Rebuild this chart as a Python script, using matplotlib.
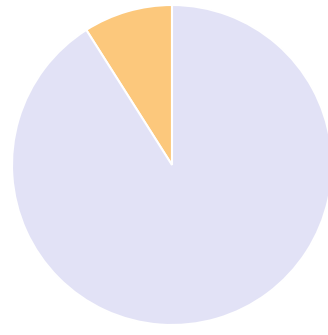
import matplotlib
matplotlib.use("Agg")
import matplotlib.pyplot as plt

labels = ["Orange", "Lavender"]
values = [9, 91]
colors = ["#fcc87c", "#e2e2f6"]

fig = plt.figure(figsize=(3.28, 3.35), dpi=100)
ax = fig.add_axes([12 / 328, 10 / 335, 320 / 328, 320 / 335])
ax.pie(values, colors=colors, startangle=90, counterclock=True,
       wedgeprops=dict(edgecolor="white", linewidth=1.5))
ax.set_xlim(-1, 1)
ax.set_ylim(-1, 1)
ax.set_aspect("equal")
ax.axis("off")

fig.savefig("out.png", dpi=100)
